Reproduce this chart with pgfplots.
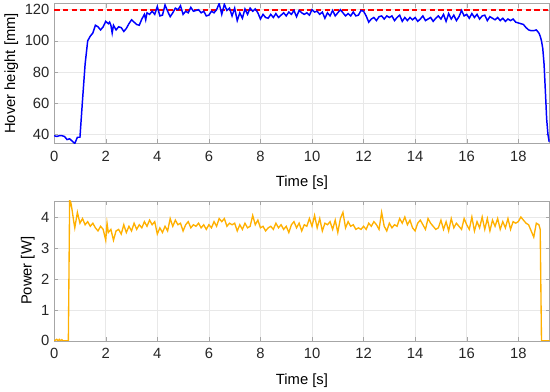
\documentclass[border=0pt]{standalone}
\usepackage{fontspec}
\setmainfont{Liberation Sans}
\usepackage{pgfplots}
\pgfplotsset{compat=1.18}
\definecolor{hblue}{RGB}{0,0,255}
\definecolor{hred}{RGB}{255,0,0}
\definecolor{pyellow}{HTML}{FFB000}
\definecolor{axgray}{HTML}{262626}

\pgfplotstableread{
t h
0.0 39
0.1 38.5
0.2 39
0.3 39
0.4 38.5
0.5 36.5
0.6 37
0.7 35.5
0.8 34
0.9 38
1.0 38
1.05 50
1.1 62
1.2 85
1.3 100
1.4 103
1.5 105
1.6 110
1.7 109
1.8 107
1.9 109
2.0 112.5
2.1 111
2.15 112
2.2 110
2.25 105
2.3 110
2.4 107
2.5 109
2.6 108.5
2.7 106
2.8 108
2.9 111
3.0 113.5
3.1 112
3.2 110.5
3.3 110
3.4 114
3.5 117
3.55 113.5
3.6 118
3.7 117
3.8 119
3.9 117
4.0 122
4.1 116
4.2 116.5
4.3 123
4.4 119
4.5 115.5
4.6 118
4.7 121
4.8 120
4.9 122.5
5.0 117
5.1 119
5.2 118
5.3 121.5
5.4 119
5.5 119.5
5.6 120
5.7 118
5.8 119
5.9 116
6.0 116.5
6.1 119
6.2 118
6.3 120
6.4 124
6.5 117
6.6 123.5
6.7 119.5
6.8 121
6.9 116
7.0 121
7.1 113
7.2 118
7.3 114.5
7.4 120.5
7.5 117
7.6 121
7.7 119
7.8 120.5
7.9 118
8.0 114
8.1 117
8.2 115
8.3 114.5
8.4 117
8.5 115
8.6 117.5
8.7 115
8.8 116.5
8.9 118
9.0 116
9.1 118.5
9.2 117
9.3 119.5
9.4 115.5
9.5 119.5
9.6 118
9.7 117
9.8 118
9.9 116.5
10.0 120
10.1 118.5
10.2 119
10.3 117
10.4 118.5
10.5 114.5
10.6 118
10.7 116
10.8 119.5
10.9 116
11.0 118
11.1 120
11.2 118
11.3 116
11.4 117.5
11.5 116
11.6 118.5
11.7 116
11.8 116.5
11.9 119.5
12.0 119
12.1 116
12.2 112
12.3 114
12.4 115
12.5 113
12.6 115.5
12.7 116
12.8 114
12.9 116
13.0 115
13.1 116
13.2 113
13.3 115
13.4 116.5
13.5 112.5
13.6 115
13.7 113
13.8 115
13.9 113.5
14.0 115
14.1 112.5
14.2 114
14.3 116
14.4 113
14.5 114
14.6 115
14.7 112.5
14.8 114.5
14.9 116
15.0 114
15.1 117
15.2 112.5
15.3 117.5
15.4 114
15.5 116.5
15.6 113
15.7 115.5
15.8 119.5
15.9 116
16.0 117
16.1 114.5
16.2 117.5
16.3 115
16.4 117
16.5 114
16.6 116
16.7 116.5
16.8 113
16.9 115.5
17.0 114.5
17.1 113.5
17.2 115
17.3 113
17.4 114.5
17.5 112.5
17.6 114
17.7 113
17.8 114
17.9 112
18.0 111.5
18.1 111
18.2 110.5
18.3 108.5
18.4 107
18.5 106.5
18.6 106.5
18.7 107
18.8 105
18.85 103
18.9 100
18.95 95
19.0 85
19.05 68
19.1 50
19.15 40
19.2 35
}\heighttable

\pgfplotstableread{
t p
0.0 0.0
0.1 0.05
0.15 0.0
0.2 0.05
0.25 0.0
0.3 0.04
0.35 0.0
0.55 0.0
0.6 4.55
0.65 4.45
0.7 4.2
0.75 3.9
0.8 3.65
0.85 3.9
0.9 4.15
1.0 3.8
1.1 3.95
1.2 3.75
1.3 3.85
1.4 3.7
1.5 3.8
1.6 3.65
1.7 3.55
1.8 3.7
1.9 3.6
2.0 3.25
2.05 3.8
2.1 3.5
2.2 3.6
2.3 3.25
2.4 3.55
2.5 3.6
2.6 3.45
2.7 3.75
2.8 3.5
2.9 3.7
3.0 3.55
3.1 3.8
3.2 3.6
3.3 3.75
3.4 3.65
3.5 3.85
3.6 3.7
3.7 3.9
3.8 3.75
3.9 3.85
4.0 3.45
4.1 3.65
4.2 3.5
4.3 3.7
4.4 3.55
4.5 3.95
4.6 3.7
4.7 3.9
4.8 3.75
4.9 3.8
5.0 3.55
5.1 3.75
5.2 3.85
5.3 3.65
5.4 3.75
5.5 3.7
5.6 3.8
5.7 3.65
5.8 3.75
5.9 3.6
6.0 3.75
6.1 3.65
6.2 3.85
6.3 3.7
6.4 3.95
6.5 3.85
6.6 3.95
6.7 3.7
6.8 3.8
6.9 3.75
7.0 3.8
7.1 3.55
7.2 3.75
7.3 3.6
7.4 3.8
7.5 3.65
7.6 3.7
7.7 4.05
7.8 3.75
7.9 3.9
8.0 3.65
8.1 3.7
8.2 3.55
8.3 3.65
8.4 3.7
8.5 3.6
8.6 3.8
8.7 3.65
8.8 3.75
8.9 3.6
9.0 3.7
9.1 3.5
9.2 3.75
9.3 3.85
9.4 3.65
9.5 3.8
9.6 3.55
9.7 3.75
9.8 3.7
9.9 3.95
10.0 3.7
10.1 4.05
10.2 3.65
10.3 3.95
10.4 3.55
10.5 3.8
10.6 3.75
10.7 3.85
10.8 3.6
10.9 3.9
11.0 3.5
11.1 3.95
11.2 4.15
11.3 3.65
11.4 3.85
11.5 3.7
11.6 3.75
11.7 3.6
11.8 3.65
11.9 3.6
12.0 3.7
12.1 3.6
12.2 3.8
12.3 3.7
12.4 3.85
12.5 3.75
12.6 3.6
12.7 4.15
12.8 3.7
12.9 3.55
13.0 3.8
13.1 3.65
13.2 3.75
13.3 3.7
13.4 3.95
13.5 3.8
13.6 4.0
13.7 3.75
13.8 3.9
13.9 3.65
14.0 3.55
14.1 3.8
14.2 3.9
14.3 3.75
14.4 3.6
14.5 3.95
14.6 3.8
14.7 3.7
14.8 3.6
14.9 3.65
15.0 3.9
15.1 3.6
15.2 3.85
15.3 3.55
15.4 3.95
15.5 3.65
15.6 3.8
15.7 3.7
15.8 3.6
15.9 3.95
16.0 3.75
16.1 3.6
16.2 4.0
16.3 3.55
16.4 3.85
16.5 3.65
16.6 4.0
16.7 3.6
16.8 3.95
16.9 3.55
17.0 3.9
17.1 3.7
17.2 3.95
17.3 3.6
17.4 3.85
17.5 3.65
17.6 3.95
17.7 3.6
17.8 3.85
17.9 3.8
18.0 3.85
18.1 4.0
18.2 3.9
18.3 3.8
18.4 3.75
18.5 3.55
18.6 3.35
18.7 3.8
18.8 3.75
18.85 3.6
18.9 0.0
19.22 0.0
}\powertable

\pgfplotsset{
  matlab/.style={
    scale only axis,
    width=369pt, height=104.25pt,
    xmin=0, xmax=19.22,
    xtick={0,2,...,18},
    axis line style={gray!70},
    tick style={gray!70, major tick length=3pt},
    tick align=inside,
    xmajorgrids, ymajorgrids,
    major grid style={gray!18},
    tick label style={font=\fontsize{11}{13}\selectfont, text=axgray},
    xticklabel style={yshift=-2pt},
    label style={font=\fontsize{11}{13}\selectfont, text=black},
    /pgf/number format/assume math mode=true,
    xlabel={Time [s]},
    xlabel style={yshift=-4pt},
    ylabel style={yshift=-2pt},
  }
}

\begin{document}
\begin{tikzpicture}
\begin{axis}[matlab, at={(0,147pt)},
  ymin=34, ymax=124,
  ytick={40,60,...,120},
  ylabel={Hover height [mm]}]
\addplot[draw=hred, color=hred, dash pattern=on 4pt off 2.5pt, line width=1.2pt] table[x=t, y=h] {
t h
0 120
19.22 120
};
\addplot[hblue, line width=1.1pt] table[x=t, y=h] {\heighttable};
\end{axis}
\begin{axis}[matlab, at={(0,0)},
  ymin=0, ymax=4.52,
  ytick={0,1,2,3,4},
  ylabel={Power [W]}]
\addplot[pyellow, line width=1pt] table[x=t, y=p] {\powertable};
\end{axis}
\end{tikzpicture}
\end{document}
